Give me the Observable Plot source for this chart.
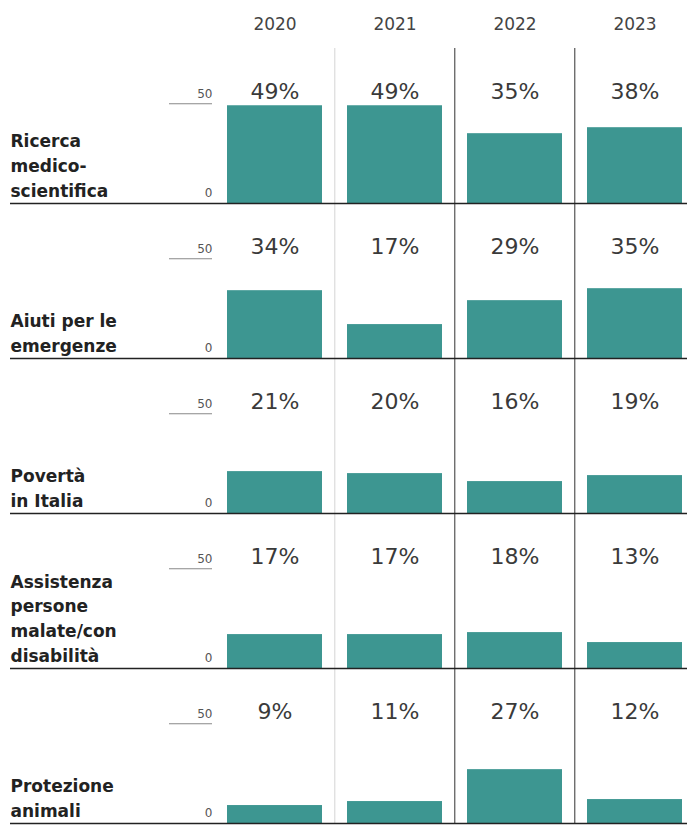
<!DOCTYPE html>
<html>
<head>
<meta charset="utf-8">
<script src="https://cdn.jsdelivr.net/npm/d3@7"></script>
<script src="https://cdn.jsdelivr.net/npm/@observablehq/plot@0.6"></script>
<style>
  html, body { margin: 0; padding: 0; background: #fff; }
  #chart svg { display: block; }
</style>
</head>
<body>
<div id="chart"></div>
<script>
const years = ["2020", "2021", "2022", "2023"];
const categories = [
  "Ricerca medico-scientifica",
  "Aiuti per le emergenze",
  "Povertà in Italia",
  "Assistenza persone malate/con disabilità",
  "Protezione animali"
];
const categoryLabels = [
  "Ricerca\nmedico-\nscientifica",
  "Aiuti per le\nemergenze",
  "Povertà\nin Italia",
  "Assistenza\npersone\nmalate/con\ndisabilità",
  "Protezione\nanimali"
];
const ricerca = [49, 49, 35, 38];
const aiuti = [34, 17, 29, 35];
const poverta = [21, 20, 16, 19];
const assistenza = [17, 17, 18, 13];
const animali = [9, 11, 27, 12];
const yTicks = [0, 50];

const series = [ricerca, aiuti, poverta, assistenza, animali];
const data = [];
categories.forEach((c, i) => {
  years.forEach((y, j) => data.push({category: c, year: y, value: series[i][j]}));
});
const labelRows = categories.map((c, i) => ({category: c, label: categoryLabels[i]}));
const tickRows = categories.flatMap(c => yTicks.map(t => ({category: c, tick: t})));

const teal = "#3d9691";

const chart = Plot.plot({
  width: 687,
  height: 827,
  marginTop: 47,
  marginBottom: 3,
  marginLeft: 212,
  marginRight: 5.5,
  style: {fontFamily: "DejaVu Sans", background: "#fff", color: "#333"},
  x: {domain: years, paddingInner: 0.21, paddingOuter: 0.055, align: 1},
  y: {domain: [0, 77.7]},
  fy: {domain: categories, padding: 0, axis: null},
  marks: [
    Plot.axisX({anchor: "top", tickSize: 0, tickPadding: 19, fontSize: 17, label: null, fill: "#444"}),
    Plot.axisY({ticks: [50], tickSize: 43, tickFormat: () => "", label: null, stroke: "#888"}),
    Plot.text(tickRows, {fy: "category", y: "tick", text: d => String(d.tick), frameAnchor: "left", textAnchor: "end", dy: -10, fontSize: 12, fill: "#555"}),
    Plot.ruleX(years.slice(1, 2), {x: d => d, dx: -60.2, stroke: "#d4d4d4", strokeWidth: 1}),
    Plot.ruleX(years.slice(2), {x: d => d, dx: -60.2, stroke: "#333", strokeWidth: 1}),
    Plot.barY(data, {x: "year", y: "value", fy: "category", fill: teal}),
    Plot.ruleY([0], {insetLeft: -202, insetRight: -5.5, stroke: "#222", strokeWidth: 1.5}),
    Plot.text(data, {x: "year", fy: "category", text: d => d.value + "%", frameAnchor: "top", dy: 35, fontSize: 22, fill: "#3a3a3a"}),
    Plot.text(labelRows, {fy: "category", text: "label", frameAnchor: "bottom-left", textAnchor: "start", lineAnchor: "bottom", lineHeight: 1.45, dx: -202, dy: -7, fontSize: 17, fontWeight: "bold", fill: "#222"})
  ]
});
document.getElementById("chart").append(chart);
</script>
</body>
</html>
